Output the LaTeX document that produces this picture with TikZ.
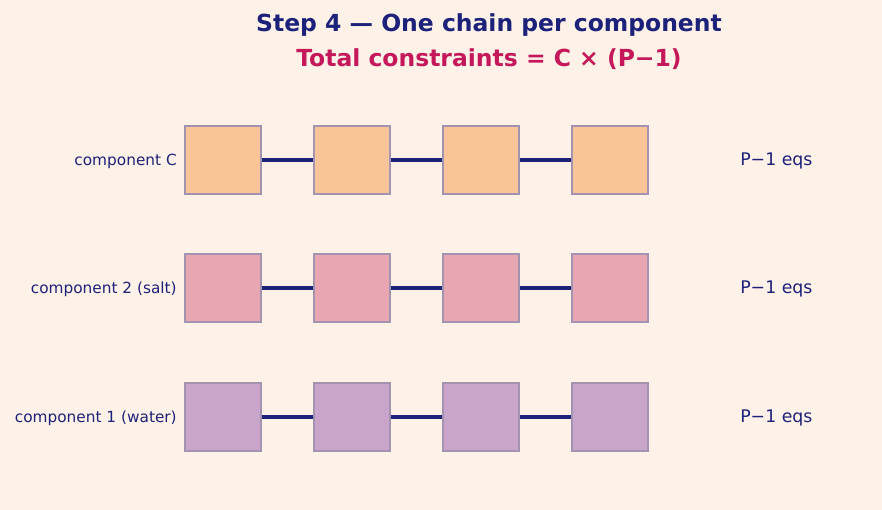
\documentclass[tikz,border=0pt]{standalone}
\usepackage{fontspec}
\setmainfont{DejaVu Sans}
\definecolor{bgcol}{HTML}{FEF1E7}
\definecolor{navy}{HTML}{1C2279}
\definecolor{crimson}{HTML}{C4185A}
\definecolor{edgecol}{HTML}{A293B0}
\definecolor{fillc}{HTML}{F8C498}
\definecolor{fills}{HTML}{E8A6B3}
\definecolor{fillw}{HTML}{C9A5CC}
\tikzset{
  phasebox/.style={draw=edgecol,line width=1.1pt,minimum width=57pt,minimum height=51pt,inner sep=0pt},
  rowlabel/.style={anchor=east,inner sep=0pt,text=navy,font=\fontsize{11.5}{13}\selectfont},
  eqlabel/.style={anchor=west,inner sep=0pt,text=navy,font=\fontsize{13}{15}\selectfont},
  link/.style={draw=navy,line width=2.3pt}
}
\begin{document}
\begin{tikzpicture}[x=0.75pt,y=-0.75pt]
  \fill[bgcol] (0,0) rectangle (882,510);
  \useasboundingbox (0,0) rectangle (882,510);
  \node[font=\bfseries\fontsize{17.6}{20}\selectfont,text=navy] (title) at (489,25) {Step 4 — One chain per component};
  \node[font=\bfseries\fontsize{17.6}{20}\selectfont,text=crimson] (total) at (489,59) {Total constraints = C × (P−1)};
  \draw
    (223,160) node[phasebox,fill=fillc] (c1){}
    (352,160) node[phasebox,fill=fillc] (c2){}
    (481,160) node[phasebox,fill=fillc] (c3){}
    (610,160) node[phasebox,fill=fillc] (c4){}
    (223,288) node[phasebox,fill=fills] (s1){}
    (352,288) node[phasebox,fill=fills] (s2){}
    (481,288) node[phasebox,fill=fills] (s3){}
    (610,288) node[phasebox,fill=fills] (s4){}
    (223,417) node[phasebox,fill=fillw] (w1){}
    (352,417) node[phasebox,fill=fillw] (w2){}
    (481,417) node[phasebox,fill=fillw] (w3){}
    (610,417) node[phasebox,fill=fillw] (w4){};
  \node[rowlabel] (lc) at (177,161) {component C};
  \node[rowlabel] (ls) at (177,289) {component 2 (salt)};
  \node[rowlabel] (lw) at (177,418) {component 1 (water)};
  \node[eqlabel] (ec) at (740,161) {P−1 eqs};
  \node[eqlabel] (es) at (740,289) {P−1 eqs};
  \node[eqlabel] (ew) at (740,418) {P−1 eqs};
  \begin{scope}[link]
    \draw (c1.east) -- (c2.west);
    \draw (c2.east) -- (c3.west);
    \draw (c3.east) -- (c4.west);
    \draw (s1.east) -- (s2.west);
    \draw (s2.east) -- (s3.west);
    \draw (s3.east) -- (s4.west);
    \draw (w1.east) -- (w2.west);
    \draw (w2.east) -- (w3.west);
    \draw (w3.east) -- (w4.west);
  \end{scope}
\end{tikzpicture}
\end{document}
